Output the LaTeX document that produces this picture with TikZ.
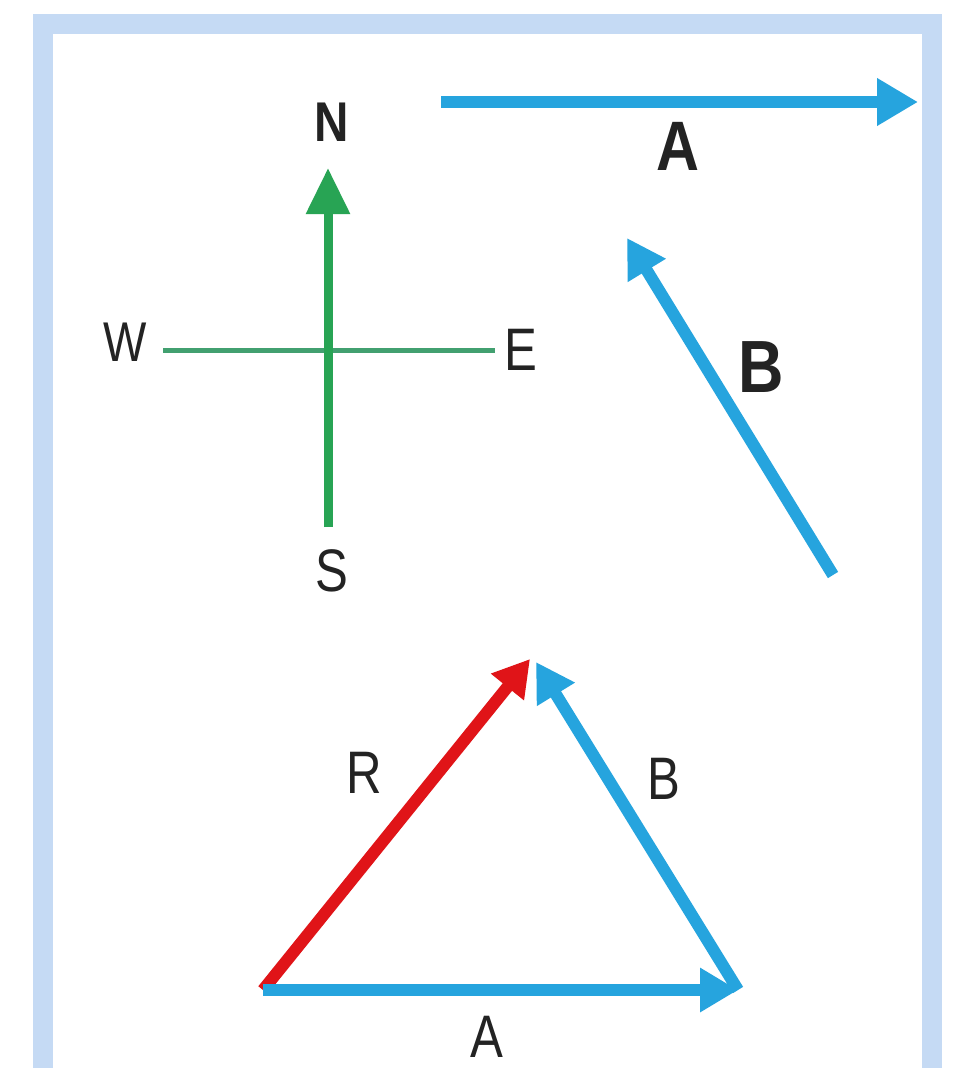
\documentclass[tikz,border=0pt]{standalone}
\usepackage{fontspec}
\setmainfont{Liberation Sans}
\usetikzlibrary{arrows.meta}
\definecolor{framecol}{RGB}{197,218,244}
\definecolor{vecblue}{RGB}{38,164,222}
\definecolor{vecred}{RGB}{224,20,24}
\definecolor{compgreen}{RGB}{40,164,84}
\definecolor{compline}{RGB}{66,160,112}
\definecolor{txt}{RGB}{35,35,35}
\tikzset{
  bluevec/.style={draw=vecblue, line width=12pt, -{Triangle[length=38pt,width=42pt]}},
  redvec/.style={draw=vecred, line width=12pt, -{Triangle[length=36pt,width=40pt]}},
  greenvec/.style={draw=compgreen, line width=9pt, -{Triangle[length=46pt,width=42pt]}},
  compass/.style={draw=compline, line width=5pt},
  lblreg/.style={text=txt, inner sep=0pt, xscale=0.82, font=\fontsize{60}{60}\selectfont},
  lblbold/.style={text=txt, inner sep=0pt, xscale=0.85, font=\fontsize{70}{70}\selectfont\bfseries},
}
\begin{document}
\begin{tikzpicture}[x=1pt,y=-1pt]
\clip (0,0) rectangle (960,1068);
\fill[white] (0,0) rectangle (960,1068);
% frame
\draw[framecol, line width=20pt] (42.5,24) rectangle (932,1120);

% compass
\coordinate (cw) at (163,350);
\coordinate (ce) at (495,350);
\coordinate (cs) at (328,527);
\coordinate (cn) at (328,168);
\draw[compass] (cw) -- (ce);
\draw[greenvec] (cs) -- (cn);
\node[lblbold, font=\fontsize{56}{56}\selectfont\bfseries] (lN) at (332,122) {N};
\node[lblreg, font=\fontsize{56}{56}\selectfont] (lW) at (125,342) {W};
\node[lblreg] (lE) at (521,350) {E};
\node[lblreg] (lS) at (332,571) {S};

% vector A (top)
\coordinate (a1) at (441,102);
\coordinate (a2) at (918,102);
\draw[bluevec, -{Triangle[length=41pt,width=45pt]}] (a1) -- (a2);
\node[lblbold] (lA) at (678,146) {A};

% vector B (top right)
\coordinate (b1) at (833,575);
\coordinate (b2) at (627,238);
\draw[bluevec] (b1) -- (b2);
\node[lblbold, font=\fontsize{74}{74}\selectfont\bfseries] (lB) at (761,367) {B};

% triangle
\coordinate (p1) at (263,990);
\coordinate (p2) at (738,990);
\coordinate (pr) at (530,659);
\coordinate (pb) at (536,662);
\draw[redvec] (p1) -- (pr);
\draw[bluevec] (p2) -- (pb);
\draw[bluevec] (p1) -- (p2);
\node[lblreg] (lR) at (364,773) {R};
\node[lblreg] (lB2) at (664,779) {B};
\node[lblreg] (lA2) at (487,1037) {A};
\end{tikzpicture}
\end{document}
